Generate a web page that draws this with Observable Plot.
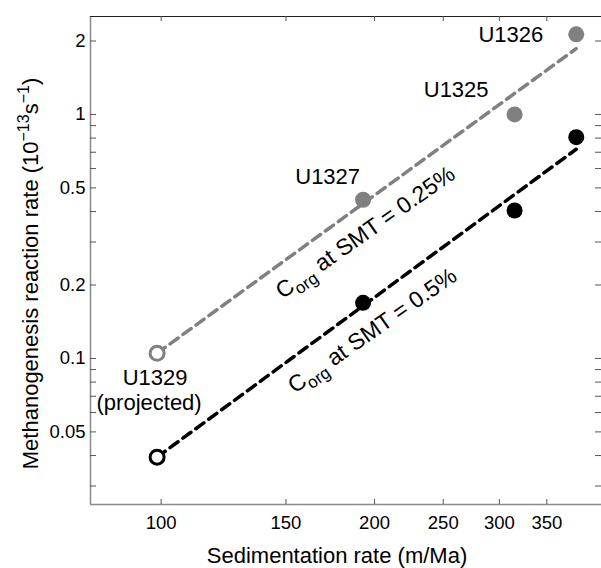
<!DOCTYPE html>
<html><head><meta charset="utf-8">
<script src="https://cdn.jsdelivr.net/npm/d3@7"></script>
<script src="https://cdn.jsdelivr.net/npm/@observablehq/plot@0.6"></script>
<style>
body{margin:0;background:#fff}
svg{font-family:"Liberation Sans",Arial,Helvetica,sans-serif}
</style>
</head><body><div id="chart"></div>
<script>
// ---- data ----
const sites = ["U1329", "U1327", "U1325", "U1326"];
const sedRate = [98.7, 192.7, 315.2, 385.1];          // m/Ma
const rate025 = [0.105, 0.447, 1.0, 2.13];             // Corg at SMT = 0.25%
const rate05  = [0.0394, 0.169, 0.404, 0.807];         // Corg at SMT = 0.5%
const projected = [true, false, false, false];
const fitX = [98.7, 385];
const fit025 = [0.105, 1.86];
const fit05 = [0.0394, 0.72];
const xTicks = [100, 150, 200, 250, 300, 350];
const yTicks = [0.05, 0.1, 0.2, 0.5, 1, 2];
const yMinor = [0.03, 0.04, 0.06, 0.07, 0.08, 0.09, 0.3, 0.4, 0.6, 0.7, 0.8, 0.9];
const xLabel = "Sedimentation rate (m/Ma)";
const yLabel = "Methanogenesis reaction rate (10−13s−1)";
const label025 = "Corg at SMT = 0.25%";
const label05 = "Corg at SMT = 0.5%";

const pts = sites.map((s, i) => ({site: s, x: sedRate[i], a: rate025[i], b: rate05[i], proj: projected[i]}));
const line025 = fitX.map((x, i) => ({x, y: fit025[i]}));
const line05 = fitX.map((x, i) => ({x, y: fit05[i]}));

const GRAY = "#808080";
const FS = 22;
const W = 601, H = 568, ML = 90, MR = 0, MT = 16, MB = 64;
const fw = W - ML - MR, fh = H - MT - MB;

const chart = Plot.plot({
  width: W, height: H,
  marginLeft: ML, marginRight: MR, marginTop: MT, marginBottom: MB,
  style: {fontFamily: '"Liberation Sans",Arial,Helvetica,sans-serif', fontSize: "18.5px", background: "white"},
  x: {type: "log", domain: [79.5, 418]},
  y: {type: "log", domain: [0.0252, 2.52]},
  marks: [
    // frame
    Plot.ruleX([79.5], {stroke: "#8a8a8a", strokeWidth: 1.5}),
    Plot.ruleY([0.0252], {stroke: "#8a8a8a", strokeWidth: 1.5}),
    Plot.ruleY([2.52], {stroke: "#222", strokeWidth: 1}),
    // inward ticks
    Plot.tickY([...yTicks, ...yMinor], {y: d => d, stroke: "#555", insetRight: fw - 6}),
    Plot.tickY([...yTicks, ...yMinor], {y: d => d, stroke: "#555", insetLeft: fw - 6}),
    Plot.tickX(xTicks, {x: d => d, stroke: "#555", insetTop: fh - 5}),
    Plot.tickX(xTicks, {x: d => d, stroke: "#555", insetBottom: fh - 5}),
    // tick labels
    Plot.axisX({ticks: xTicks, tickFormat: d => String(d), tickSize: 0, tickPadding: 11, fontSize: 18.5, label: null}),
    Plot.axisY({ticks: yTicks, tickFormat: d => String(d), tickSize: 0, tickPadding: 5, fontSize: 18.5, label: null}),
    // fitted lines
    Plot.line(line025, {x: "x", y: "y", stroke: GRAY, strokeWidth: 3.5, strokeDasharray: "10,6"}),
    Plot.line(line05, {x: "x", y: "y", stroke: "#000", strokeWidth: 3.5, strokeDasharray: "10,6"}),
    // points
    Plot.dot(pts.filter(d => !d.proj), {x: "x", y: "a", r: 8, fill: GRAY}),
    Plot.dot(pts.filter(d => !d.proj), {x: "x", y: "b", r: 8, fill: "#000"}),
    Plot.dot(pts.filter(d => d.proj), {x: "x", y: "a", r: 7, stroke: GRAY, strokeWidth: 3, fill: "white"}),
    Plot.dot(pts.filter(d => d.proj), {x: "x", y: "b", r: 7, stroke: "#000", strokeWidth: 3, fill: "white"}),
    // site labels
    Plot.text(pts.filter(d => d.site === "U1326"), {x: "x", y: "a", text: "site", textAnchor: "end", dx: -33, dy: 1, fontSize: FS}),
    Plot.text(pts.filter(d => d.site === "U1325"), {x: "x", y: "a", text: "site", textAnchor: "end", dx: -26, dy: -24, fontSize: FS}),
    Plot.text(pts.filter(d => d.site === "U1327"), {x: "x", y: "a", text: "site", textAnchor: "end", dx: -3, dy: -23, fontSize: FS}),
    Plot.text(pts.filter(d => d.site === "U1329"), {x: "x", y: "a", text: "site", dx: -2, dy: 25, fontSize: FS}),
    Plot.text(pts.filter(d => d.site === "U1329"), {x: "x", y: "a", text: () => "(projected)", dx: -8, dy: 50, fontSize: FS}),
    // series labels along the lines
    Plot.text([label025], {x: () => 197.3, y: () => 0.341, dx: -5, dy: 4, text: d => d, rotate: -35, fontSize: 23}),
    Plot.text([label05], {x: () => 200.5, y: () => 0.135, dx: -3, dy: 4, text: d => d, rotate: -35, fontSize: 23}),
    // axis titles
    Plot.text([xLabel], {frameAnchor: "bottom", dx: -9, dy: 51, text: d => d, textAnchor: "middle", lineAnchor: "middle", fontSize: FS}),
    Plot.text([yLabel], {frameAnchor: "left", dx: -60, dy: 13, rotate: -90, text: d => d, textAnchor: "middle", lineAnchor: "middle", fontSize: FS})
  ]
});

const svg = d3.select(chart);
function rebuild(str, parts) {
  svg.selectAll("text").filter(function () { return this.textContent === str; }).each(function () {
    const t = d3.select(this);
    t.text(null);
    parts.forEach(p => {
      const ts = t.append("tspan").text(p.t);
      if (p.fs) ts.attr("font-size", p.fs);
      if (p.dy) ts.attr("dy", p.dy);
    });
  });
}
rebuild(label025, [{t: "C"}, {t: "org", fs: 17, dy: 6}, {t: " at SMT = 0.25%", dy: -6}]);
rebuild(label05, [{t: "C"}, {t: "org", fs: 17, dy: 6}, {t: " at SMT = 0.5%", dy: -6}]);
rebuild(yLabel, [{t: "Methanogenesis reaction rate (10"}, {t: "−13", fs: 16, dy: -9}, {t: "s", dy: 9}, {t: "−1", fs: 16, dy: -9}, {t: ")", dy: 9}]);

document.getElementById("chart").appendChild(chart);
</script>
</body></html>
